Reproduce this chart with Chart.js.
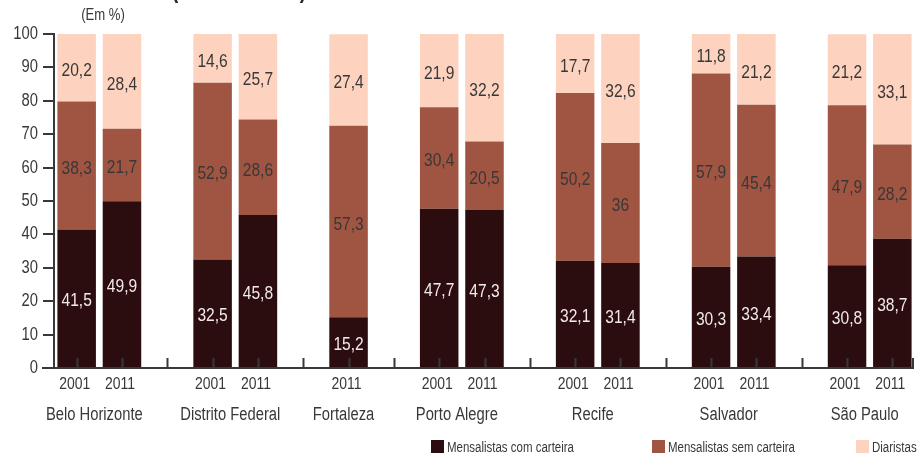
<!DOCTYPE html>
<html>
<head>
<meta charset="utf-8">
<script src="https://cdn.jsdelivr.net/npm/chart.js@4"></script>
<style>
  body { margin: 0; background: #fff; }
  #wrap { position: relative; width: 918px; height: 455px; }
</style>
</head>
<body>
<div id="wrap"><canvas id="chart" width="918" height="455"></canvas></div>
<script>
// dados do grafico (em %)
const cities = ["Belo Horizonte", "Distrito Federal", "Fortaleza", "Porto Alegre", "Recife", "Salvador", "São Paulo"];
const years = [["2001", "2011"], ["2001", "2011"], ["2011"], ["2001", "2011"], ["2001", "2011"], ["2001", "2011"], ["2001", "2011"]];
const comCarteira = [41.5, 49.9, 32.5, 45.8, 15.2, 47.7, 47.3, 32.1, 31.4, 30.3, 33.4, 30.8, 38.7];
const semCarteira = [38.3, 21.7, 52.9, 28.6, 57.3, 30.4, 20.5, 50.2, 36, 57.9, 45.4, 47.9, 28.2];
const diaristas = [20.2, 28.4, 14.6, 25.7, 27.4, 21.9, 32.2, 17.7, 32.6, 11.8, 21.2, 21.2, 33.1];
const seriesNames = ["Mensalistas com carteira", "Mensalistas sem carteira", "Diaristas"];
const yTicks = [0, 10, 20, 30, 40, 50, 60, 70, 80, 90, 100];

const FONT = "'Liberation Sans', Arial, sans-serif";
const NARROW = 0.82; // fonte estreita tipo Frutiger Condensed
const TXT = "#383838";
const colors = ["#2b0c0f", "#a05442", "#fdd3bf"];

// monta os slots do eixo x (um slot vazio entre as cidades)
const labels = [];
const groups = [];
const slotOf = [];
cities.forEach((c, i) => {
    if (i > 0) labels.push("");
    const slots = [];
    years[i].forEach(y => {
        slots.push(labels.length);
        slotOf.push(labels.length);
        labels.push(y);
    });
    groups.push({ name: c, slots: slots });
});

function spread(arr) {
    const out = labels.map(() => null);
    arr.forEach((v, i) => { out[slotOf[i]] = v; });
    return out;
}

// texto comprimido na horizontal
function txt(ctx, s, x, y, size, align, color, base, bold) {
    ctx.save();
    ctx.translate(x, y);
    ctx.scale(NARROW, 1);
    ctx.font = (bold ? "bold " : "") + size + "px " + FONT;
    ctx.textAlign = align;
    ctx.textBaseline = base || "alphabetic";
    ctx.fillStyle = color;
    ctx.fillText(s, 0, 0);
    ctx.restore();
}

const extras = {
    id: "extras",
    afterDatasetsDraw(chart) {
        const ctx = chart.ctx;
        const xs = chart.scales.x;
        const area = chart.chartArea;

        // valores dentro das barras
        chart.data.datasets.forEach((ds, di) => {
            const meta = chart.getDatasetMeta(di);
            meta.data.forEach((bar, j) => {
                const v = ds.data[j];
                if (v === null) return;
                txt(ctx, String(v).replace(".", ","), bar.x, (bar.y + bar.base) / 2 + 3, 19,
                    "center", di === 0 ? "#f2eaea" : TXT, "middle");
            });
        });

        // eixo x e tracinhos para cima
        ctx.save();
        ctx.strokeStyle = TXT;
        ctx.lineWidth = 2;
        ctx.beginPath();
        ctx.moveTo(42, area.bottom);
        ctx.lineTo(area.right - 1, area.bottom);
        ctx.stroke();
        ctx.beginPath();
        labels.forEach((l, i) => {
            const x = Math.round(xs.getPixelForValue(i)) + 0.5;
            ctx.moveTo(x, area.bottom);
            ctx.lineTo(x, area.bottom - 10);
        });
        ctx.moveTo(area.right - 2, area.bottom);
        ctx.lineTo(area.right - 2, area.bottom - 10);
        ctx.stroke();
        ctx.restore();
    },
    afterDraw(chart) {
        const ctx = chart.ctx;
        const xs = chart.scales.x;
        const ys = chart.scales.y;
        const area = chart.chartArea;

        // rotulos do eixo y
        yTicks.forEach(v => {
            txt(ctx, String(v), 38, ys.getPixelForValue(v), 18, "right", TXT, "middle");
        });

        // anos
        labels.forEach((l, i) => {
            if (l) txt(ctx, l, xs.getPixelForValue(i) - 2, area.bottom + 21, 17, "center", TXT);
        });

        // nomes das cidades
        groups.forEach(g => {
            const a = xs.getPixelForValue(g.slots[0]);
            const b = xs.getPixelForValue(g.slots[g.slots.length - 1]);
            txt(ctx, g.name, (a + b) / 2 - 5, 420, 18, "center", TXT);
        });

        // unidade
        txt(ctx, "(Em %)", 103, 20, 16, "center", TXT);

        // resto do titulo cortado
        txt(ctx, "(", 175, -2, 24, "center", "#2a2a2a", "alphabetic", true);
        txt(ctx, ")", 303, -2, 24, "center", "#2a2a2a", "alphabetic", true);

        // legenda
        const legX = [431, 652, 856];
        seriesNames.forEach((n, i) => {
            ctx.fillStyle = colors[i];
            ctx.fillRect(legX[i], 440, 13, 13);
            txt(ctx, n, legX[i] + 16, 452, 14, "left", TXT);
        });
    }
};

const ctx = document.getElementById("chart").getContext("2d");
const chart = new Chart(ctx, {
    type: "bar",
    data: {
        labels: labels,
        datasets: [
            { label: seriesNames[0], data: spread(comCarteira), backgroundColor: colors[0] },
            { label: seriesNames[1], data: spread(semCarteira), backgroundColor: colors[1] },
            { label: seriesNames[2], data: spread(diaristas), backgroundColor: colors[2] }
        ]
    },
    options: {
        responsive: false,
        animation: false,
        layout: { padding: { top: 34, right: 3, left: 0, bottom: 0 } },
        datasets: { bar: { categoryPercentage: 1, barPercentage: 0.85 } },
        plugins: {
            legend: { display: false },
            tooltip: { enabled: false }
        },
        scales: {
            x: {
                stacked: true,
                grid: { display: false, drawTicks: false },
                border: { display: false },
                ticks: { display: false, autoSkip: false },
                afterFit(scale) { scale.height = 87; }
            },
            y: {
                stacked: true,
                min: 0,
                max: 100,
                afterBuildTicks(scale) { scale.ticks = yTicks.map(v => ({ value: v })); },
                grid: { drawOnChartArea: false, tickLength: 11, tickColor: TXT, lineWidth: 2 },
                border: { color: TXT, width: 2 },
                ticks: { display: false },
                afterFit(scale) { scale.width = 54; }
            }
        }
    },
    plugins: [extras]
});
</script>
</body>
</html>
